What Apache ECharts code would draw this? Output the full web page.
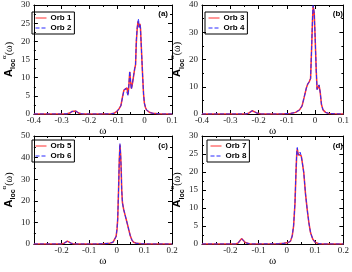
<!DOCTYPE html>
<html><head><meta charset="utf-8">
<script src="https://cdn.jsdelivr.net/npm/echarts@6/dist/echarts.min.js"></script>
<style>html,body{margin:0;padding:0;background:#fff}#c{width:352px;height:272px}</style>
</head><body><div id="c"></div>
<script>
// Panel (a)
var omegaA = [-0.4,-0.3,-0.28,-0.27,-0.262,-0.255,-0.248,-0.24,-0.23,-0.22,-0.15,-0.12,-0.11,-0.1,-0.092,-0.085,-0.079,-0.074,-0.068,-0.063,-0.059,-0.056,-0.053,-0.05,-0.047,-0.043,-0.039,-0.035,-0.032,-0.029,-0.026,-0.023,-0.021,-0.019,-0.016,-0.014,-0.012,-0.009,-0.006,-0.003,0,0.004,0.008,0.013,0.02,0.03,0.05,0.07,0.1];
var orb1 = [0,0,0.05,0.25,0.7,1.05,0.8,0.35,0.08,0,0,0.05,0.2,0.7,1.4,2.3,4.8,6.6,7.0,7.2,5.3,8,11.6,9,7.0,8.5,10.5,12.5,13.5,20,23.5,25.5,26,24,24.8,23.5,20,15,10,5.5,3,1.8,1.1,0.7,0.4,0.2,0.05,0,0];
var orb2 = [0,0,0.05,0.25,0.7,1.05,0.8,0.35,0.08,0,0,0.05,0.2,0.7,1.4,2.3,4.6,6.5,7.1,7.2,5.0,8.2,11.8,9,6.8,8.5,10.6,12.5,13.5,20.5,23.8,25.5,26.2,23.8,24.8,23.5,20,15,10,5.5,3,1.8,1.1,0.7,0.4,0.2,0.05,0,0];
// Panel (b)
var omegaB = [-0.4,-0.3,-0.245,-0.235,-0.228,-0.222,-0.215,-0.207,-0.2,-0.19,-0.12,-0.087,-0.069,-0.055,-0.046,-0.039,-0.031,-0.026,-0.02,-0.016,-0.0127,-0.009,-0.007,-0.003,0.0002,0.004,0.007,0.011,0.014,0.018,0.0225,0.028,0.037,0.048,0.07,0.1];
var orb3 = [0,0,0,0.3,0.9,1.2,0.9,0.4,0.1,0,0,0.2,0.6,1.5,3,6,9.5,11,12,13,23,35,39.5,37,28,16,9,8.5,10.5,8,3.5,1.5,0.6,0.2,0.05,0];
var orb4 = [0,0,0,0.3,0.9,1.2,0.9,0.4,0.1,0,0,0.2,0.6,1.5,3,6,9.5,11,12,13,23,35.5,39.8,37,28,16,9,8.3,10.7,8,3.5,1.5,0.6,0.2,0.05,0];
// Panel (c)
var omegaC = [-0.3,-0.2,-0.19,-0.184,-0.179,-0.173,-0.166,-0.158,-0.15,-0.08,-0.048,-0.025,-0.0138,-0.007,-0.0023,0.001,0.0034,0.0069,0.009,0.0115,0.0138,0.016,0.018,0.0207,0.025,0.03,0.038,0.0437,0.049,0.055,0.061,0.072,0.09,0.12,0.2];
var orb5 = [0,0,0.4,1.0,1.3,1.0,0.4,0.1,0,0,0.1,0.4,0.8,1.5,3.5,7,11.4,26.8,38,46,42,34.6,25,19,16,13.5,9.5,6.5,3.8,1.8,0.8,0.3,0.1,0,0];
var orb6 = [0,0,0.4,1.0,1.3,1.0,0.4,0.1,0,0,0.1,0.4,0.8,1.5,3.5,7,11.6,27,38.5,46.5,42,34.6,25,19,16,13.5,9.5,6.5,3.8,1.8,0.8,0.3,0.1,0,0];
// Panel (d)
var omegaD = [-0.3,-0.18,-0.172,-0.166,-0.16,-0.154,-0.147,-0.14,-0.13,-0.03,-0.01,0.005,0.013,0.019,0.024,0.029,0.032,0.035,0.037,0.04,0.043,0.047,0.051,0.054,0.06,0.066,0.072,0.078,0.084,0.092,0.101,0.113,0.13,0.2];
var orb7 = [0,0,0.3,0.9,1.5,1.1,0.4,0.1,0,0.05,0.2,0.4,0.8,2.2,5,11.5,18.9,25,26.5,25,24.5,25.3,24.5,23,19.8,14,9.6,5.9,3.1,1.3,0.4,0.1,0,0];
var orb8 = [0,0,0.3,0.9,1.5,1.1,0.4,0.1,0,0.05,0.2,0.4,0.8,2.2,5.2,11.8,19.2,25.5,26.8,24.6,24.8,25.5,24.5,23,19.8,14,9.6,5.9,3.1,1.3,0.4,0.1,0,0];

var panelLabels = ['(a)','(b)','(c)','(d)'];
var names = [['Orb 1','Orb 2'],['Orb 3','Orb 4'],['Orb 5','Orb 6'],['Orb 7','Orb 8']];
var xRanges = [[-0.4,0.1],[-0.4,0.1],[-0.3,0.2],[-0.3,0.2]];
var yRanges = [[0,30,5],[0,40,10],[0,50,10],[0,30,5]];
var xs = [omegaA,omegaB,omegaC,omegaD];
var ys = [[orb1,orb2],[orb3,orb4],[orb5,orb6],[orb7,orb8]];

var grids = [
  {left:27, top:5, width:145, height:109},
  {left:202, top:5, width:142, height:109},
  {left:27, top:136, width:145, height:108},
  {left:202, top:136, width:142, height:108}
];
var legendPos = [[32,12],[205,12],[32,140],[207,140]];
var labelPos = [[168,15],[343,15],[168,147],[343,147]];

function pairs(x, y){ return x.map(function(v,i){return [v,y[i]];}); }
var serif = 'Liberation Serif';
var sans = 'Liberation Sans';
var axLine = {onZero:false,lineStyle:{color:'#000',width:1}};
var tick = {inside:true,length:4,lineStyle:{color:'#000'}};
var mtick = {show:true,splitNumber:2,length:2,lineStyle:{color:'#000'}};

var xAxis=[], yAxis=[], series=[], legend=[], graphic=[];
for (var i=0;i<4;i++){
  var xr = xRanges[i], yr = yRanges[i];
  var hideFirst = (i>=2);
  xAxis.push({type:'value',gridIndex:i,min:xr[0],max:xr[1],interval:0.1,position:'bottom',
    axisLine:axLine,axisTick:tick,minorTick:mtick,splitLine:{show:false},
    axisLabel:{fontFamily:serif,fontSize:9,color:'#222',margin:2,
      formatter:(function(h){return function(v){ if(h && Math.abs(v+0.3)<1e-6) return ''; return String(Math.round(v*10)/10);};})(hideFirst)},
    name:'ω',nameLocation:'middle',nameGap:9,nameTextStyle:{fontFamily:serif,fontSize:11,color:'#000'}});
  xAxis.push({type:'value',gridIndex:i,min:xr[0],max:xr[1],interval:0.1,position:'top',
    axisLine:axLine,axisTick:tick,minorTick:mtick,splitLine:{show:false},axisLabel:{show:false}});
  yAxis.push({type:'value',gridIndex:i,min:yr[0],max:yr[1],interval:yr[2],position:'left',
    axisLine:axLine,axisTick:tick,minorTick:mtick,splitLine:{show:false},
    axisLabel:{fontFamily:serif,fontSize:9,color:'#222',margin:4},
    name:'{a|A}{s|loc}{u|α}{b|(ω)}',nameLocation:'middle',nameRotate:90,nameGap:10,
    nameTextStyle:{rich:{
      a:{fontFamily:sans,fontWeight:'bold',fontSize:11,lineHeight:16,verticalAlign:'middle',color:'#000'},
      s:{fontFamily:sans,fontWeight:'bold',fontSize:7,lineHeight:7,verticalAlign:'bottom',color:'#000'},
      u:{fontFamily:serif,fontSize:7,lineHeight:7,verticalAlign:'top',color:'#000'},
      b:{fontFamily:serif,fontSize:10,lineHeight:16,verticalAlign:'middle',color:'#000'}
    }}});
  yAxis.push({type:'value',gridIndex:i,min:yr[0],max:yr[1],interval:yr[2],position:'right',
    axisLine:axLine,axisTick:tick,minorTick:mtick,splitLine:{show:false},axisLabel:{show:false}});
  series.push({type:'line',name:names[i][0],xAxisIndex:2*i,yAxisIndex:2*i,data:pairs(xs[i],ys[i][0]),
    symbol:'none',lineStyle:{color:'#ff3030',width:1.5},itemStyle:{color:'#ff3030'},animation:false,z:2});
  series.push({type:'line',name:names[i][1],xAxisIndex:2*i,yAxisIndex:2*i,data:pairs(xs[i],ys[i][1]),
    symbol:'none',lineStyle:{color:'#2a2aff',width:1,type:[4,2]},itemStyle:{color:'#2a2aff'},animation:false,z:3});
  legend.push({data:names[i],left:legendPos[i][0],top:legendPos[i][1],orient:'vertical',
    padding:[2,3,2,3],itemGap:2,itemWidth:11,itemHeight:8,borderColor:'#000',borderWidth:1,
    itemStyle:{opacity:0},lineStyle:{width:1},
    textStyle:{fontFamily:sans,fontWeight:'bold',fontSize:8,color:'#000',padding:[0,0,0,-1]}});
  graphic.push({type:'text',right:352-labelPos[i][0],top:labelPos[i][1]-5,
    style:{text:panelLabels[i],font:'bold 8px "Liberation Sans"',fill:'#000'}});
}
var chart = echarts.init(document.getElementById('c'),null,{renderer:'canvas'});
chart.setOption({animation:false,grid:grids,xAxis:xAxis,yAxis:yAxis,series:series,legend:legend,graphic:graphic});
</script></body></html>
